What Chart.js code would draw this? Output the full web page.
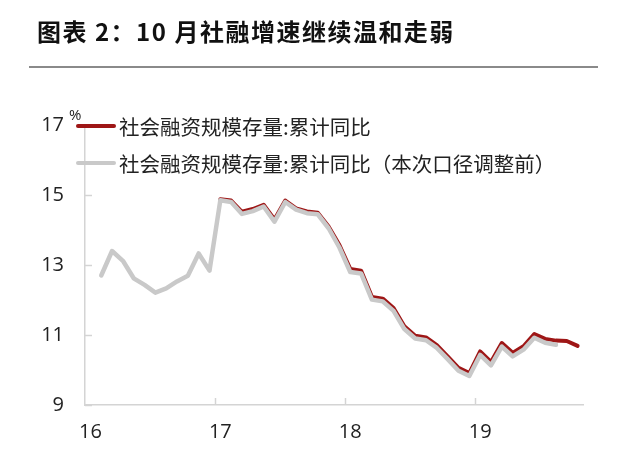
<!DOCTYPE html>
<html lang="zh">
<head>
<meta charset="UTF-8">
<title>10月社融增速</title>
<script src="https://cdn.jsdelivr.net/npm/chart.js"></script>
<style>
  body { margin: 0; background: #fff; }
  #wrap { position: relative; width: 620px; height: 459px; overflow: hidden; }
  #title { position: absolute; left: 37px; top: 17px; font: bold 24px "Noto Sans CJK SC"; letter-spacing: 1.5px; color: #111; line-height: 28px; white-space: nowrap; }
  #rule { position: absolute; left: 29px; top: 66px; width: 569px; border-top: 2px solid #8a8a8a; }
  #unit { position: absolute; left: 69px; top: 104px; font: 15px "Open Sans"; color: #222; }
  #legend { position: absolute; left: 76px; top: 107px; font: 20.5px "Noto Sans CJK SC"; color: #222; }
  .item { display: flex; align-items: center; height: 37px; white-space: nowrap; }
  .swatch { width: 40px; height: 4px; margin-right: 3px; border-radius: 2px; }
  canvas { position: absolute; left: 0; top: 0; }
</style>
</head>
<body>
<div id="wrap">
  <canvas id="chart" width="620" height="459"></canvas>
  <div id="title">图表 2：10 月社融增速继续温和走弱</div>
  <div id="rule"></div>
  <div id="unit">%</div>
  <div id="legend"></div>
</div>
<script>
// months Jan 2016 .. Oct 2019
const months = [
  '2016-01','2016-02','2016-03','2016-04','2016-05','2016-06','2016-07','2016-08','2016-09','2016-10','2016-11','2016-12',
  '2017-01','2017-02','2017-03','2017-04','2017-05','2017-06','2017-07','2017-08','2017-09','2017-10','2017-11','2017-12',
  '2018-01','2018-02','2018-03','2018-04','2018-05','2018-06','2018-07','2018-08','2018-09','2018-10','2018-11','2018-12',
  '2019-01','2019-02','2019-03','2019-04','2019-05','2019-06','2019-07','2019-08','2019-09','2019-10'
];

// 社会融资规模存量:累计同比 (%)
const tsfNew = [
  null, null, null, null, null, null, null, null, null, null, null, null,
  14.88, 14.84, 14.52, 14.60, 14.72, 14.30, 14.84, 14.62, 14.53, 14.49, 14.10, 13.57,
  12.89, 12.84, 12.09, 12.04, 11.77, 11.25, 10.98, 10.93, 10.71, 10.39, 10.06, 9.91,
  10.53, 10.23, 10.77, 10.49, 10.68, 11.03, 10.89, 10.84, 10.83, 10.69
];

// 社会融资规模存量:累计同比(本次口径调整前) (%)
const tsfOld = [
  null, 12.70, 13.40, 13.12, 12.62, 12.43, 12.21, 12.33, 12.53, 12.69, 13.33, 12.84,
  14.85, 14.80, 14.46, 14.54, 14.67, 14.24, 14.80, 14.58, 14.48, 14.45, 14.05, 13.50,
  12.80, 12.76, 12.01, 11.96, 11.69, 11.17, 10.90, 10.85, 10.63, 10.31, 9.98, 9.83,
  10.43, 10.13, 10.67, 10.39, 10.58, 10.92, 10.78, 10.72, null, null
];

const seriesNames = ['社会融资规模存量:累计同比', '社会融资规模存量:累计同比（本次口径调整前）'];
const seriesColors = ['#9e1616', '#c9c9c9'];
const yTicks = [9, 11, 13, 15, 17];

const axisColor = '#d4d4d4';

// small inward tick marks on both axes
const innerTicks = {
  id: 'innerTicks',
  afterDatasetsDraw(chart) {
    const { ctx, scales: { x, y } } = chart;
    ctx.save();
    ctx.strokeStyle = axisColor;
    ctx.lineWidth = 1.5;
    const half = (x.getPixelForValue(1) - x.getPixelForValue(0)) / 2;
    months.forEach((m, i) => {
      if (!m.endsWith('-01') || i === 0) return;
      const px = Math.round(x.getPixelForValue(i) - half) + 0.5;
      ctx.beginPath();
      ctx.moveTo(px, y.bottom);
      ctx.lineTo(px, y.bottom - 7);
      ctx.stroke();
    });
    yTicks.forEach(v => {
      const py = Math.round(y.getPixelForValue(v)) + 0.5;
      ctx.beginPath();
      ctx.moveTo(x.left, py);
      ctx.lineTo(x.left + 7, py);
      ctx.stroke();
    });
    ctx.restore();
  }
};

new Chart(document.getElementById('chart'), {
  type: 'line',
  data: {
    labels: months,
    datasets: [
      { label: seriesNames[1], data: tsfOld, borderColor: seriesColors[1], borderWidth: 4.5, order: 1 },
      { label: seriesNames[0], data: tsfNew, borderColor: seriesColors[0], borderWidth: 4, order: 2 }
    ]
  },
  options: {
    responsive: false,
    animation: false,
    layout: { padding: { top: 125, right: 37, left: 0, bottom: 0 } },
    elements: {
      point: { radius: 0 },
      line: { tension: 0, borderJoinStyle: 'round', borderCapStyle: 'round' }
    },
    plugins: { legend: { display: false }, tooltip: { enabled: false } },
    scales: {
      x: {
        offset: true,
        grid: { display: false, drawTicks: false },
        border: { display: true, color: axisColor, width: 1.5 },
        ticks: {
          autoSkip: false,
          maxRotation: 0,
          padding: 15,
          color: '#222',
          font: { family: 'Open Sans', size: 20 },
          callback: (v, i) => months[i].endsWith('-01') ? months[i].slice(2, 4) : ''
        },
        afterFit: s => { s.height = 54; }
      },
      y: {
        min: 9,
        max: 17,
        grid: { display: false, drawTicks: false },
        border: { display: true, color: axisColor, width: 1.5 },
        afterBuildTicks: s => { s.ticks = yTicks.map(v => ({ value: v })); },
        ticks: {
          padding: 21,
          color: '#222',
          font: { family: 'Open Sans', size: 20 }
        },
        afterFit: s => { s.width = 85; }
      }
    }
  },
  plugins: [innerTicks]
});

// legend
const legend = document.getElementById('legend');
seriesNames.forEach((name, i) => {
  const row = document.createElement('div');
  row.className = 'item';
  row.innerHTML = '<span class="swatch" style="background:' + seriesColors[i] + '"></span><span>' + name + '</span>';
  legend.appendChild(row);
});
</script>
</body>
</html>
